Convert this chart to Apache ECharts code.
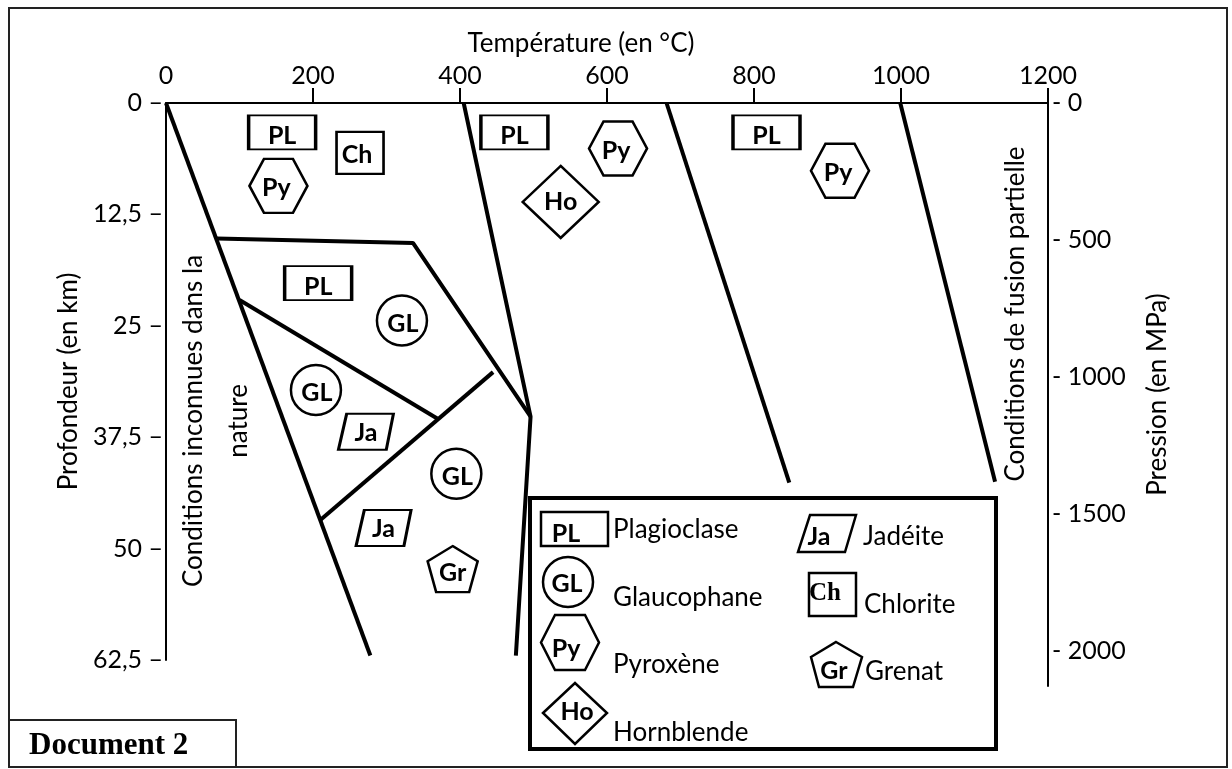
<!DOCTYPE html>
<html>
<head>
<meta charset="utf-8">
<script src="https://cdn.jsdelivr.net/npm/echarts@6/dist/echarts.min.js"></script>
<style>
html, body { margin: 0; padding: 0; background: #fff; }
#chart { width: 1232px; height: 769px; }
</style>
</head>
<body>
<div id="chart"></div>
<script>
var dom = document.getElementById('chart');
var myChart = echarts.init(dom);

// limites des domaines (température en °C, profondeur en km)
var lineA = [[0, 0], [278, 62]];
var lineB = [[69, 15.2], [336, 15.7], [496, 35.2]];
var lineC = [[100, 22.1], [369, 35.4]];
var lineD = [[210, 46.8], [445, 30.2]];
var lineE = [[405, 0], [496, 35.2], [476, 62]];
var lineF = [[681, 0], [848, 42.6]];
var lineG = [[999, 0], [1128, 42.5]];

// minéraux : [température, profondeur]
var plPoints = [[158, 3.3], [207, 20.2], [474, 3.3], [817, 3.3]];
var chPoints = [[264, 5.6]];
var pyPoints = [[153, 9.3], [615, 5.1], [917, 7.6]];
var glPoints = [[321, 24.4], [204, 32.2], [395, 41.6]];
var jaPoints = [[272, 36.9], [296, 47.7]];
var grPoints = [[390, 52.3]];
var hoPoints = [[537, 11.1]];

var legendNames = ['Plagioclase', 'Glaucophane', 'Pyroxène', 'Hornblende', 'Jadéite', 'Chlorite', 'Grenat'];

var FONT = 'Lato';
var FS = 26;
var HEX = 'path://M0,50 L25,0 L75,0 L100,50 L75,100 L25,100 Z';
var PARA = 'path://M15,0 L100,0 L87,100 L0,100 Z';
var PENTA = 'path://M50,0 L100,33 L83,100 L17,100 L0,33 Z';

function boundary(data) {
    return {
        type: 'line',
        xAxisIndex: 0,
        yAxisIndex: 0,
        data: data,
        symbol: 'none',
        silent: true,
        lineStyle: { color: '#000', width: 4 }
    };
}

function mineral(text, data, symbol, size, offset) {
    return {
        type: 'scatter',
        xAxisIndex: 0,
        yAxisIndex: 0,
        data: data,
        symbol: symbol,
        symbolSize: size,
        silent: true,
        itemStyle: { color: '#fff', borderColor: '#000', borderWidth: 2.5, opacity: 1 },
        label: {
            show: true,
            position: 'inside',
            formatter: text,
            offset: offset,
            color: '#000',
            fontFamily: FONT,
            fontWeight: 'bold',
            fontSize: 25
        }
    };
}

function txt(x, y, s, opts) {
    var style = {
        text: s,
        fill: '#000',
        fontFamily: FONT,
        fontSize: FS,
        align: 'left',
        verticalAlign: 'middle'
    };
    for (var k in opts) style[k] = opts[k];
    return { type: 'text', x: x, y: y, style: style, silent: true };
}

var stroke = { fill: '#fff', stroke: '#000', lineWidth: 2.5 };
var bold = { fontWeight: 'bold', fontSize: 25, align: 'center' };

var graphics = [
    // cadre
    { type: 'rect', shape: { x: 9, y: 8, width: 1218, height: 759 }, style: { fill: 'none', stroke: '#222', lineWidth: 2 }, silent: true },
    { type: 'rect', shape: { x: 9, y: 720, width: 227, height: 47 }, style: { fill: '#fff', stroke: '#222', lineWidth: 2 }, silent: true },
    txt(29, 746, 'Document 2', { fontFamily: 'Liberation Serif', fontWeight: 'bold', fontSize: 31 }),
    // titre de l'axe des températures
    txt(581, 44, 'Température (en °C)', { align: 'center' }),
    { type: 'text', x: 216, y: 421, rotation: Math.PI / 2, silent: true,
      style: { text: 'Conditions inconnues dans la\nnature', fill: '#000', fontFamily: FONT, fontSize: FS, lineHeight: 45, align: 'center', verticalAlign: 'middle' } },
    { type: 'text', x: 1016, y: 314, rotation: Math.PI / 2, silent: true,
      style: { text: 'Conditions de fusion partielle', fill: '#000', fontFamily: FONT, fontSize: FS, align: 'center', verticalAlign: 'middle' } },
    // légende
    { type: 'rect', shape: { x: 530, y: 498, width: 466, height: 251 }, style: { fill: '#fff', stroke: '#000', lineWidth: 4 }, silent: true },
    { type: 'rect', shape: { x: 541, y: 512, width: 67, height: 34 }, style: stroke, silent: true },
    txt(566, 534, 'PL', bold),
    txt(613, 530, legendNames[0]),
    { type: 'circle', shape: { cx: 568, cy: 582, r: 25 }, style: stroke, silent: true },
    txt(567, 584, 'GL', bold),
    txt(613, 598, legendNames[1]),
    { type: 'polygon', shape: { points: [[541, 642.5], [555, 615], [585, 615], [599, 642.5], [585, 670], [555, 670]] }, style: stroke, silent: true },
    txt(566, 649, 'Py', bold),
    txt(613, 665, legendNames[2]),
    { type: 'polygon', shape: { points: [[543, 713], [575, 683], [607, 713], [575, 744]] }, style: stroke, silent: true },
    txt(577, 712, 'Ho', bold),
    txt(613, 733, legendNames[3]),
    { type: 'polygon', shape: { points: [[810, 515], [856, 515], [845, 552], [798, 552]] }, style: stroke, silent: true },
    txt(819, 537, 'Ja', bold),
    txt(863, 537, legendNames[4]),
    { type: 'rect', shape: { x: 809, y: 573, width: 47, height: 43 }, style: stroke, silent: true },
    txt(825, 594, 'Ch', { fontFamily: 'Liberation Serif', fontWeight: 'bold', fontSize: 25, align: 'center' }),
    txt(864, 605, legendNames[5]),
    { type: 'polygon', shape: { points: [[836, 642], [862, 657], [853, 687], [819, 687], [811, 657]] }, style: stroke, silent: true },
    txt(834, 671, 'Gr', bold),
    txt(865, 672, legendNames[6])
];

option = {
    animation: false,
    backgroundColor: '#fff',
    grid: [
        { left: 166, top: 103, width: 882, height: 557 }, // diagramme
        { left: 166, top: 103, width: 882, height: 583 }  // axe des pressions
    ],
    xAxis: [
        {
            gridIndex: 0,
            type: 'value',
            position: 'top',
            min: 0,
            max: 1200,
            interval: 200,
            axisLine: { onZero: false, lineStyle: { color: '#000', width: 2 } },
            axisTick: { show: true, length: 15, lineStyle: { color: '#000', width: 2 }, customValues: [200, 400, 600, 800, 1000, 1200] },
            axisLabel: {
                color: '#000', fontFamily: FONT, fontSize: 25, margin: 15,
                formatter: function (v) { return String(v); }
            },
            splitLine: { show: false }
        },
        { gridIndex: 1, type: 'value', min: 0, max: 1200, show: false }
    ],
    yAxis: [
        {
            gridIndex: 0,
            type: 'value',
            inverse: true,
            min: 0,
            max: 62.5,
            interval: 12.5,
            position: 'left',
            name: 'Profondeur (en km)',
            nameLocation: 'middle',
            nameRotate: 90,
            nameGap: 82,
            nameTextStyle: { color: '#000', fontFamily: FONT, fontSize: FS },
            axisLine: { show: true, onZero: false, lineStyle: { color: '#000', width: 2 } },
            axisTick: { show: false },
            axisLabel: {
                color: '#000', fontFamily: FONT, fontSize: 25, margin: 3,
                formatter: function (v) { return String(v).replace('.', ',') + ' –'; }
            },
            splitLine: { show: false }
        },
        {
            gridIndex: 1,
            type: 'value',
            inverse: true,
            min: 0,
            max: 2128,
            interval: 500,
            position: 'right',
            name: 'Pression (en MPa)',
            nameLocation: 'middle',
            nameRotate: 90,
            nameGap: 97,
            nameTextStyle: { color: '#000', fontFamily: FONT, fontSize: FS },
            axisLine: { show: true, onZero: false, lineStyle: { color: '#000', width: 2 } },
            axisTick: { show: false },
            axisLabel: {
                color: '#000', fontFamily: FONT, fontSize: 25, margin: 4,
                formatter: function (v) { return v % 500 === 0 ? '- ' + v : ''; }
            },
            splitLine: { show: false }
        }
    ],
    graphic: graphics,
    series: [
        boundary(lineA),
        boundary(lineB),
        boundary(lineC),
        boundary(lineD),
        boundary(lineE),
        boundary(lineF),
        boundary(lineG),
        mineral('PL', plPoints, 'rect', [67, 34], [0, 4]),
        mineral('Ch', chPoints, 'rect', [47, 42], [-3, 2]),
        mineral('Py', pyPoints, HEX, [58, 54], [-2, 2]),
        mineral('GL', glPoints, 'circle', 50, [1, 3]),
        mineral('Ja', jaPoints, PARA, [55, 36], [0, 1]),
        mineral('Gr', grPoints, PENTA, [50, 46], [0, 4]),
        mineral('Ho', hoPoints, 'diamond', [76, 72], [0, 0])
    ]
};

if (option && typeof option === "object") {
    myChart.setOption(option, true);
}
</script>
</body>
</html>
